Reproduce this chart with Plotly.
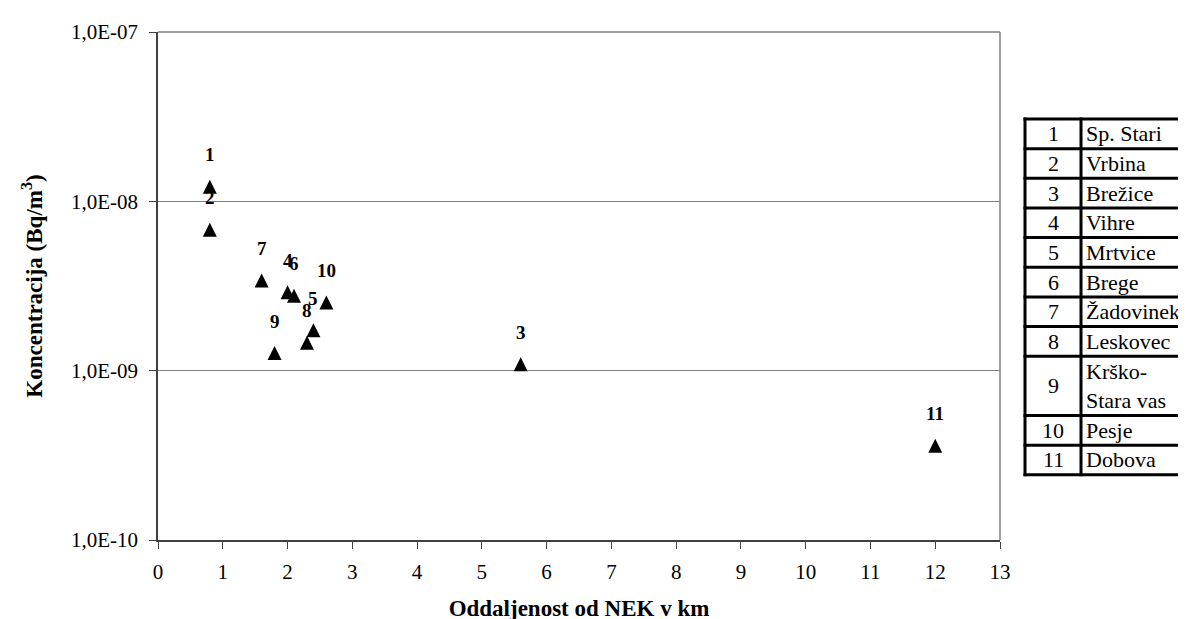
import math
import plotly.graph_objects as go

# ---------------- data ----------------
station_no = [1, 2, 3, 4, 5, 6, 7, 8, 9, 10, 11]
station_names = ["Sp. Stari", "Vrbina", "Brežice", "Vihre", "Mrtvice", "Brege",
                 "Žadovinek", "Leskovec", "Krško-Stara vas", "Pesje", "Dobova"]
distance_km = [0.8, 0.8, 5.6, 2.0, 2.4, 2.1, 1.6, 2.3, 1.8, 2.6, 12.0]
concentration = [1.22e-8, 6.8e-9, 1.09e-9, 2.9e-9, 1.73e-9, 2.77e-9,
                 3.41e-9, 1.46e-9, 1.27e-9, 2.53e-9, 3.6e-10]
x_tickvals = list(range(0, 14))
y_tickvals = [1e-10, 1e-9, 1e-8, 1e-7]
y_ticktext = ["1,0E-10", "1,0E-09", "1,0E-08", "1,0E-07"]

# ---------------- layout geometry (pixels) ----------------
W, H = 1186, 619
PL, PR, PT, PB = 150, 992, 24, 532
FONT = "Liberation Serif, Times New Roman, serif"


def xp(px):
    return (px - PL) / (PR - PL)


def yp(py):
    return (PB - py) / (PB - PT)


fig = go.Figure()
fig.add_trace(go.Scatter(
    x=distance_km, y=concentration, mode="markers",
    marker=dict(symbol="arrow-down", size=14, standoff=7, angle=180,
                color="black", line=dict(width=0)),
    showlegend=False, cliponaxis=False,
))

annotations = []
# point labels
for n, xv, yv in zip(station_no, distance_km, concentration):
    annotations.append(dict(
        x=xv, y=math.log10(yv), xref="x", yref="y", text=f"<b>{n}</b>",
        showarrow=False, yshift=32,
        font=dict(family=FONT, size=19, color="black")))

shapes = []
# plot-area border (top and right, grey)
shapes.append(dict(type="line", xref="paper", yref="paper", x0=0, x1=1, y0=1, y1=1,
                   line=dict(color="#808080", width=1.5)))
shapes.append(dict(type="line", xref="paper", yref="paper", x0=1, x1=1, y0=0, y1=1,
                   line=dict(color="#808080", width=1.5)))

# ---------------- legend table ----------------
TL, TM, TR = 1017, 1073, 1192
top = 111.0
rh = 29.65
bounds = [top]
rows = []
for n, name in zip(station_no, station_names):
    label = name.replace("-", "-<br>") if "-" in name else name
    lines = 2 if "<br>" in label else 1
    y0 = bounds[-1]
    y1 = y0 + rh * lines
    bounds.append(y1)
    rows.append((n, label, (y0 + y1) / 2))

for b in bounds:
    shapes.append(dict(type="line", xref="paper", yref="paper",
                       x0=xp(TL - 1.5), x1=xp(TR), y0=yp(b), y1=yp(b),
                       line=dict(color="black", width=3)))
for vx in (TL, TM):
    shapes.append(dict(type="line", xref="paper", yref="paper",
                       x0=xp(vx), x1=xp(vx), y0=yp(bounds[0] - 1.5), y1=yp(bounds[-1] + 1.5),
                       line=dict(color="black", width=3)))

for n, label, cy in rows:
    annotations.append(dict(x=xp((TL + TM) / 2), y=yp(cy), xref="paper", yref="paper",
                            text=str(n), showarrow=False, xanchor="center", yanchor="middle",
                            font=dict(family=FONT, size=22, color="black")))
    annotations.append(dict(x=xp(TM + 3), y=yp(cy), xref="paper", yref="paper",
                            text=label, showarrow=False, xanchor="left", yanchor="middle",
                            align="left",
                            font=dict(family=FONT, size=22, color="black")))

fig.update_layout(
    width=W, height=H,
    margin=dict(l=PL, r=W - PR, t=PT, b=H - PB, autoexpand=False),
    paper_bgcolor="white", plot_bgcolor="white",
    font=dict(family=FONT, size=21, color="black"),
    shapes=shapes, annotations=annotations,
)
fig.update_xaxes(
    range=[0, 13], tickvals=x_tickvals, ticktext=[str(v) for v in x_tickvals],
    showgrid=False, zeroline=False,
    showline=True, linecolor="#404040", linewidth=1.5,
    ticks="outside", ticklen=7, tickcolor="#404040", tickwidth=1.2,
    ticklabelstandoff=5,
    tickfont=dict(family=FONT, size=21, color="black"),
    title=dict(text="<b>Oddaljenost od NEK v km</b>", standoff=17,
               font=dict(family=FONT, size=23, color="black")),
)
fig.update_yaxes(
    type="log", range=[-10, -7], tickvals=y_tickvals, ticktext=y_ticktext,
    showgrid=True, gridcolor="#808080", gridwidth=1.2, zeroline=False,
    showline=True, linecolor="#404040", linewidth=1.5,
    ticks="outside", ticklen=7, tickcolor="#404040", tickwidth=1.2,
    ticklabelstandoff=7,
    tickfont=dict(family=FONT, size=21, color="black"),
    title=dict(text="<b>Koncentracija (Bq/m<sup>3</sup>)</b>", standoff=22,
               font=dict(family=FONT, size=23, color="black")),
)

fig.write_html("out.html")
